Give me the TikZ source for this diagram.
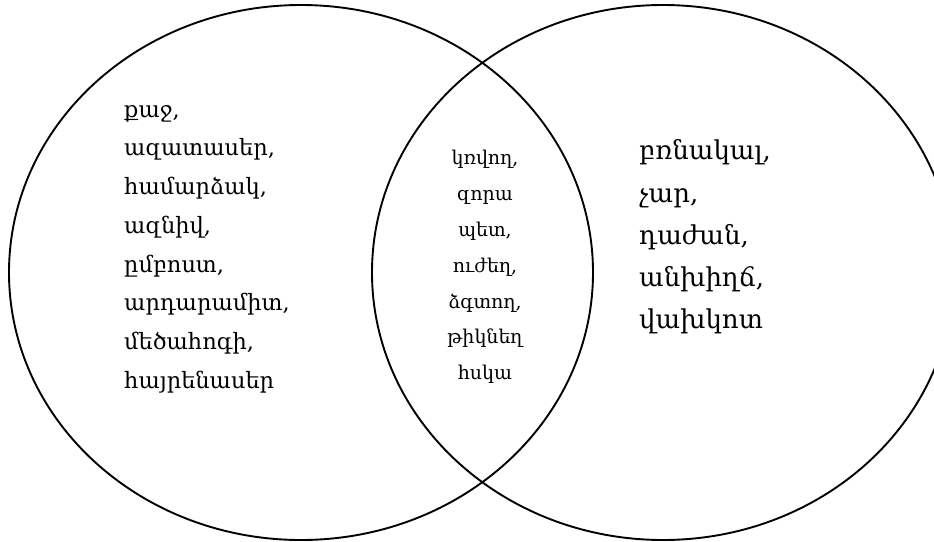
\documentclass[tikz,border=0pt]{standalone}
\usepackage{fontspec}
\setmainfont{DejaVu Serif}
\begin{document}
\begin{tikzpicture}[x=1pt,y=-1pt,
  ring/.style={draw=black, line width=1.9pt},
  leftwords/.style={align=left, inner sep=0pt, font=\fontsize{22.5}{38.7}\selectfont},
  midwords/.style={align=center, inner sep=0pt, font=\fontsize{19}{35.8}\selectfont},
  rightwords/.style={align=left, inner sep=0pt, font=\fontsize{26}{42.2}\selectfont}]
\useasboundingbox (0,0) rectangle (934,541);
\clip (0,0) rectangle (934,541);
\draw[ring] (301,272.5) ellipse [x radius=292, y radius=267.5];
\draw[ring] (663,272.5) ellipse [x radius=291, y radius=267.5];
\node[leftwords, anchor=west] (L) at (124,249) {քաջ,\\ազատասեր,\\համարձակ,\\ազնիվ,\\ըմբոստ,\\արդարամիտ,\\մեծահոգի,\\հայրենասեր};
\node[midwords] (M) at (485,267) {կռվող,\\զորա\\պետ,\\ուժեղ,\\ձգտող,\\թիկնեղ\\հսկա};
\node[rightwords, anchor=west] (R) at (639,237) {բռնակալ,\\չար,\\դաժան,\\անխիղճ,\\վախկոտ};
\end{tikzpicture}
\end{document}
